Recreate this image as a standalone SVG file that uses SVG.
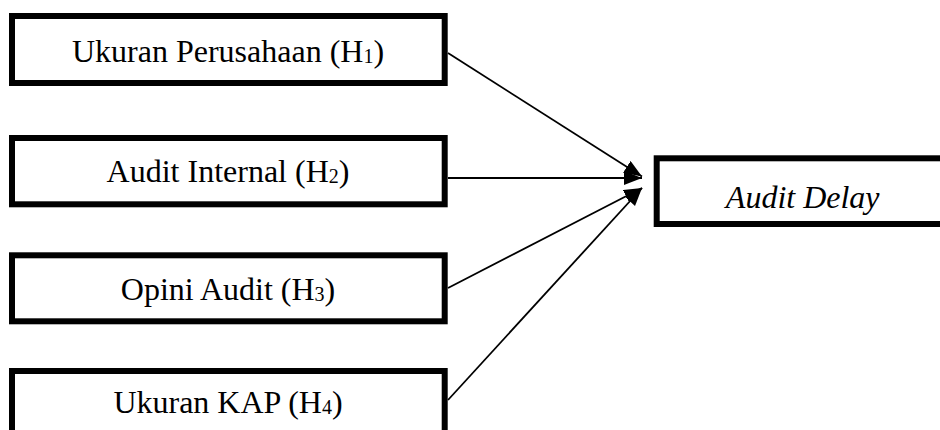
<svg xmlns="http://www.w3.org/2000/svg" width="940" height="430" viewBox="0 0 940 430">
<defs>
<style>
.box{fill:#fff;stroke:#000;stroke-width:6}
.lbl{font-family:"Liberation Serif","Times New Roman",serif;font-size:32px;fill:#000;text-anchor:middle}
.sub{font-size:20px}
.conn{stroke:#000;stroke-width:1.8;fill:none;marker-end:url(#arrow)}
</style>
<marker id="arrow" markerUnits="userSpaceOnUse" markerWidth="19" markerHeight="15" refX="18" refY="7" orient="auto">
<path d="M0,0 L18,7 L0,14 z" fill="#000"/>
</marker>
</defs>
<rect width="940" height="430" fill="#fff"/>
<g id="connectors">
<line class="conn" x1="448" y1="53" x2="642" y2="176.5"/>
<line class="conn" x1="448" y1="178" x2="642" y2="178"/>
<line class="conn" x1="448" y1="288" x2="642" y2="188"/>
<line class="conn" x1="448" y1="400" x2="642" y2="188"/>
</g>
<g id="node-h1">
<rect class="box" x="12" y="16" width="432.7" height="67"/>
<text class="lbl" x="228" y="61.5">Ukuran Perusahaan (H<tspan class="sub" dy="1">1</tspan><tspan dy="-1">)</tspan></text>
</g>
<g id="node-h2">
<rect class="box" x="12" y="138" width="432.7" height="66.3"/>
<text class="lbl" x="228" y="181.7">Audit Internal (H<tspan class="sub" dy="1">2</tspan><tspan dy="-1">)</tspan></text>
</g>
<g id="node-h3">
<rect class="box" x="12" y="255.3" width="432.7" height="66"/>
<text class="lbl" x="228" y="300">Opini Audit (H<tspan class="sub" dy="1">3</tspan><tspan dy="-1">)</tspan></text>
</g>
<g id="node-h4">
<rect class="box" x="12" y="371" width="432.7" height="80"/>
<text class="lbl" x="228" y="413.3">Ukuran KAP (H<tspan class="sub" dy="1">4</tspan><tspan dy="-1">)</tspan></text>
</g>
<g id="node-delay">
<rect class="box" x="656.7" y="158.3" width="300" height="65.7"/>
<text class="lbl" x="802.7" y="208.3" font-style="italic">Audit Delay</text>
</g>
</svg>
